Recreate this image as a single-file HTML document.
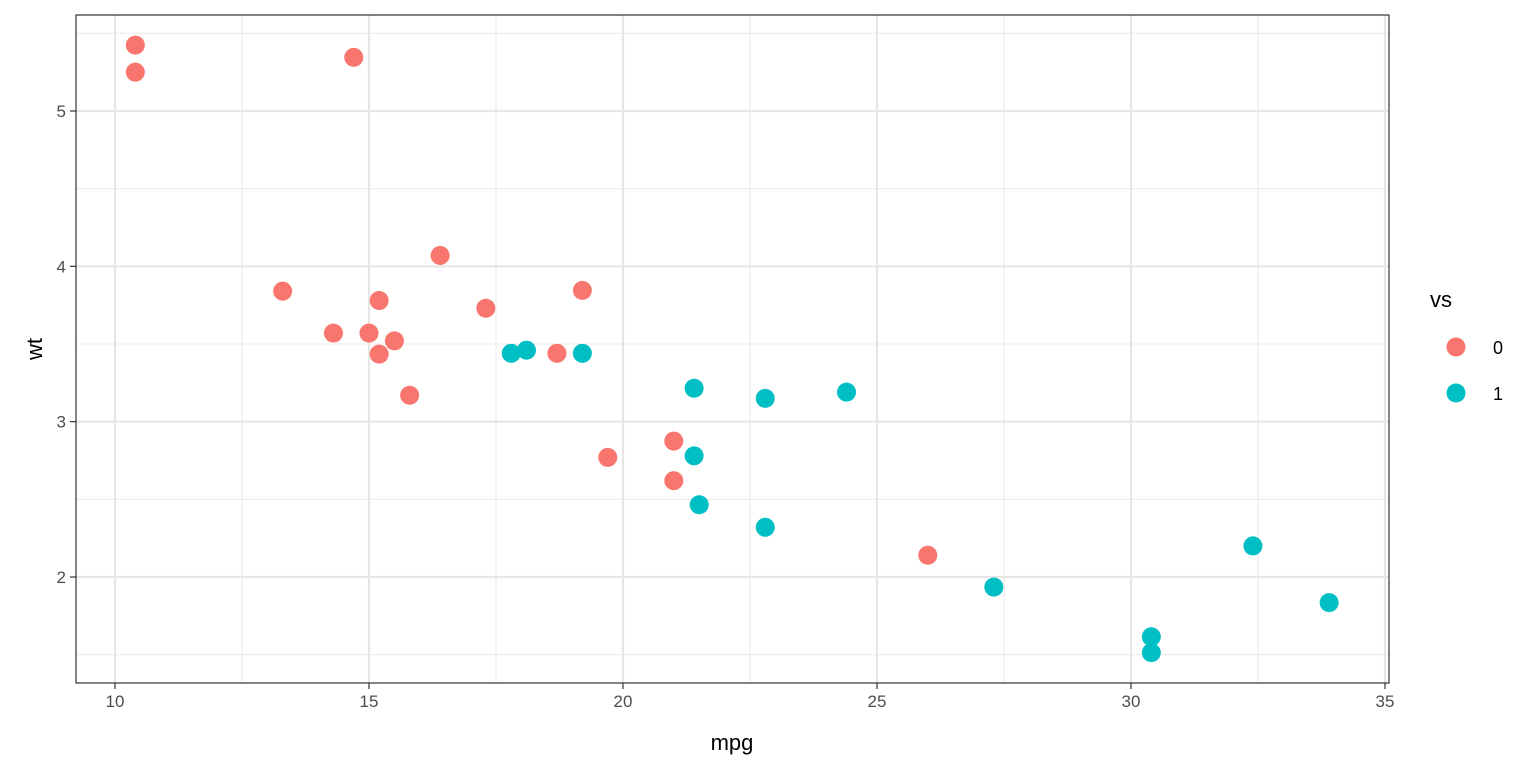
<!DOCTYPE html>
<html><head><meta charset="utf-8">
<style>
html,body{margin:0;padding:0;background:#fff;}
svg{display:block;font-family:"Liberation Sans",sans-serif;}
</style></head>
<body>
<svg id="chart" width="1536" height="768">
  <rect x="76" y="15" width="1313" height="668" fill="#fff"/>
  <g id="grid"></g>
  <g id="pts"></g>
  <rect x="76" y="15" width="1313" height="668" fill="none" stroke="#333" stroke-width="1.2"/>
  <g id="axes"></g>
  <text x="732" y="750" font-size="22" text-anchor="middle" fill="#000">mpg</text>
  <text transform="translate(42,349) rotate(-90)" font-size="22" text-anchor="middle" fill="#000">wt</text>
  <g>
    <text x="1430" y="307" font-size="22" fill="#000">vs</text>
    <circle cx="1456" cy="347" r="9.5" fill="#F8766D"/>
    <text x="1493" y="354" font-size="18" fill="#000">0</text>
    <circle cx="1456" cy="393" r="9.5" fill="#00BFC4"/>
    <text x="1493" y="400" font-size="18" fill="#000">1</text>
  </g>
</svg>
<script>
const mpg = [21.0,21.0,22.8,21.4,18.7,18.1,14.3,24.4,22.8,19.2,17.8,16.4,17.3,15.2,10.4,10.4,14.7,32.4,30.4,33.9,21.5,15.5,15.2,13.3,19.2,27.3,26.0,30.4,15.8,19.7,15.0,21.4];
const wt = [2.620,2.875,2.320,3.215,3.440,3.460,3.570,3.190,3.150,3.440,3.440,4.070,3.730,3.780,5.250,5.424,5.345,2.200,1.615,1.835,2.465,3.520,3.435,3.840,3.845,1.935,2.140,1.513,3.170,2.770,3.570,2.780];
const vs = [0,0,1,1,0,1,0,1,1,1,1,0,0,0,0,0,0,1,1,1,1,0,0,0,0,1,0,1,0,0,0,1];
const xTicks = [10,15,20,25,30,35];
const yTicks = [2,3,4,5];
const xMinor = [12.5,17.5,22.5,27.5,32.5];
const yMinor = [1.5,2.5,3.5,4.5,5.5];
const colors = {0:"#F8766D",1:"#00BFC4"};
const X0=76,X1=1389,Y0=15,Y1=683;
const xs = v => 115 + (v-10)*(1385-115)/25;
const ys = v => 577 - (v-2)*(577-111)/3;
const NS="http://www.w3.org/2000/svg";
const grid=document.getElementById('grid'), axes=document.getElementById('axes'), pts=document.getElementById('pts');
function line(p,x1,y1,x2,y2,st,w){const l=document.createElementNS(NS,'line');l.setAttribute('x1',x1);l.setAttribute('y1',y1);l.setAttribute('x2',x2);l.setAttribute('y2',y2);l.setAttribute('stroke',st);l.setAttribute('stroke-width',w);p.appendChild(l);return l;}
function txt(p,x,y,s,anchor){const t=document.createElementNS(NS,'text');t.setAttribute('x',x);t.setAttribute('y',y);t.setAttribute('font-size','17');t.setAttribute('fill','#4d4d4d');t.setAttribute('text-anchor',anchor);t.textContent=s;p.appendChild(t);return t;}
xMinor.forEach(v=>{const l=line(grid,xs(v),Y0,xs(v),Y1,'#ebebeb',1.1);

});
yMinor.forEach(v=>{const l=line(grid,X0,ys(v),X1,ys(v),'#ebebeb',1.1);

});
xTicks.forEach(v=>{const l=line(grid,xs(v),Y0,xs(v),Y1,'#e6e6e6',2.2);


const k=line(axes,xs(v),Y1,xs(v),Y1+6,'#333',1.2);


const t=txt(axes,xs(v),707,String(v),'middle');

});
yTicks.forEach(v=>{const l=line(grid,X0,ys(v),X1,ys(v),'#e6e6e6',2.2);


const k=line(axes,X0-6,ys(v),X0,ys(v),'#333',1.2);


const t=txt(axes,X0-10,ys(v)+6,String(v),'end');

});
mpg.forEach((m,i)=>{const c=document.createElementNS(NS,'circle');
c.setAttribute('cx',xs(m));c.setAttribute('cy',ys(wt[i]));c.setAttribute('r',9.5);c.setAttribute('fill',colors[vs[i]]);


pts.appendChild(c);});
</script>
</body></html>
